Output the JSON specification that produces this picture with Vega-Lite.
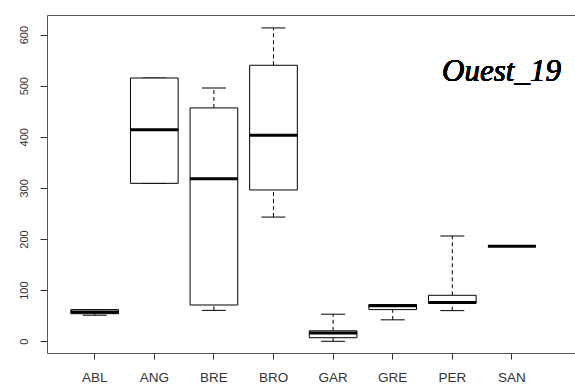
{
  "$schema": "https://vega.github.io/schema/vega-lite/v6.json",
  "autosize": "none",
  "width": 529,
  "height": 338,
  "padding": {"left": 47, "top": 15, "right": 0, "bottom": 32},
  "background": "white",
  "config": {
    "view": {"stroke": "#555555", "strokeWidth": 1},
    "axis": {"grid": false, "domain": false, "tickColor": "#333333", "labelColor": "#333333", "labelFont": "Liberation Sans"}
  },
  "data": {
    "values": [
      {"site": "ABL", "min": 51, "q1": 54, "med": 57.5, "q3": 62, "max": 62},
      {"site": "ANG", "min": 309, "q1": 309, "med": 414, "q3": 515, "max": 515},
      {"site": "BRE", "min": 60.5, "q1": 71, "med": 318, "q3": 456.5, "max": 495.5},
      {"site": "BRO", "min": 243, "q1": 296, "med": 403, "q3": 540, "max": 613},
      {"site": "GAR", "min": 0, "q1": 7, "med": 16, "q3": 20.5, "max": 53},
      {"site": "GRE", "min": 42, "q1": 62, "med": 69.5, "q3": 72, "max": 72},
      {"site": "PER", "min": 60, "q1": 75, "med": 76, "q3": 90, "max": 206},
      {"site": "SAN", "min": 186, "q1": 186, "med": 186, "q3": 186, "max": 186}
    ]
  },
  "encoding": {
    "x": {
      "field": "site", "type": "nominal", "sort": null,
      "scale": {"type": "band", "paddingInner": 0, "paddingOuter": 0.438, "align": 0.343},
      "axis": {"title": null, "labelAngle": 0, "labelFontSize": 13.5, "tickSize": 6, "labelPadding": 11}
    }
  },
  "layer": [
    {
      "mark": {"type": "rule", "color": "#000000", "strokeWidth": 1, "strokeDash": [4, 3]},
      "encoding": {
        "y": {"field": "q3", "type": "quantitative",
          "scale": {"domain": [-22.9, 638.3], "nice": false, "zero": false},
          "axis": {"title": null, "values": [0, 100, 200, 300, 400, 500, 600], "labelAngle": -90, "labelAlign": "center", "labelBaseline": "alphabetic", "labelFontSize": 11, "tickSize": 7, "labelPadding": 13}},
        "y2": {"field": "max"}
      }
    },
    {
      "mark": {"type": "rule", "color": "#000000", "strokeWidth": 1, "strokeDash": [4, 3]},
      "encoding": {
        "y": {"field": "min", "type": "quantitative"},
        "y2": {"field": "q1"}
      }
    },
    {
      "mark": {"type": "tick", "color": "#000000", "opacity": 1, "thickness": 1, "size": 24, "orient": "horizontal"},
      "encoding": {"y": {"field": "max", "type": "quantitative"}}
    },
    {
      "mark": {"type": "tick", "color": "#000000", "opacity": 1, "thickness": 1, "size": 24, "orient": "horizontal"},
      "encoding": {"y": {"field": "min", "type": "quantitative"}}
    },
    {
      "mark": {"type": "bar", "fill": "white", "stroke": "#000000", "opacity": 1, "strokeWidth": 1, "width": {"band": 0.8}},
      "encoding": {
        "y": {"field": "q1", "type": "quantitative"},
        "y2": {"field": "q3"}
      }
    },
    {
      "mark": {"type": "tick", "color": "#000000", "opacity": 1, "thickness": 3, "size": 48, "orient": "horizontal"},
      "encoding": {"y": {"field": "med", "type": "quantitative"}}
    },
    {
      "mark": {"type": "text", "text": "Ouest_19", "font": "Liberation Serif", "fontStyle": "italic", "fontWeight": "normal", "fontSize": 31, "align": "right", "baseline": "alphabetic", "dx": 49, "color": "#000000"},
      "encoding": {
        "x": {"datum": "SAN"},
        "y": {"datum": 510}
      }
    }
  ]
}
